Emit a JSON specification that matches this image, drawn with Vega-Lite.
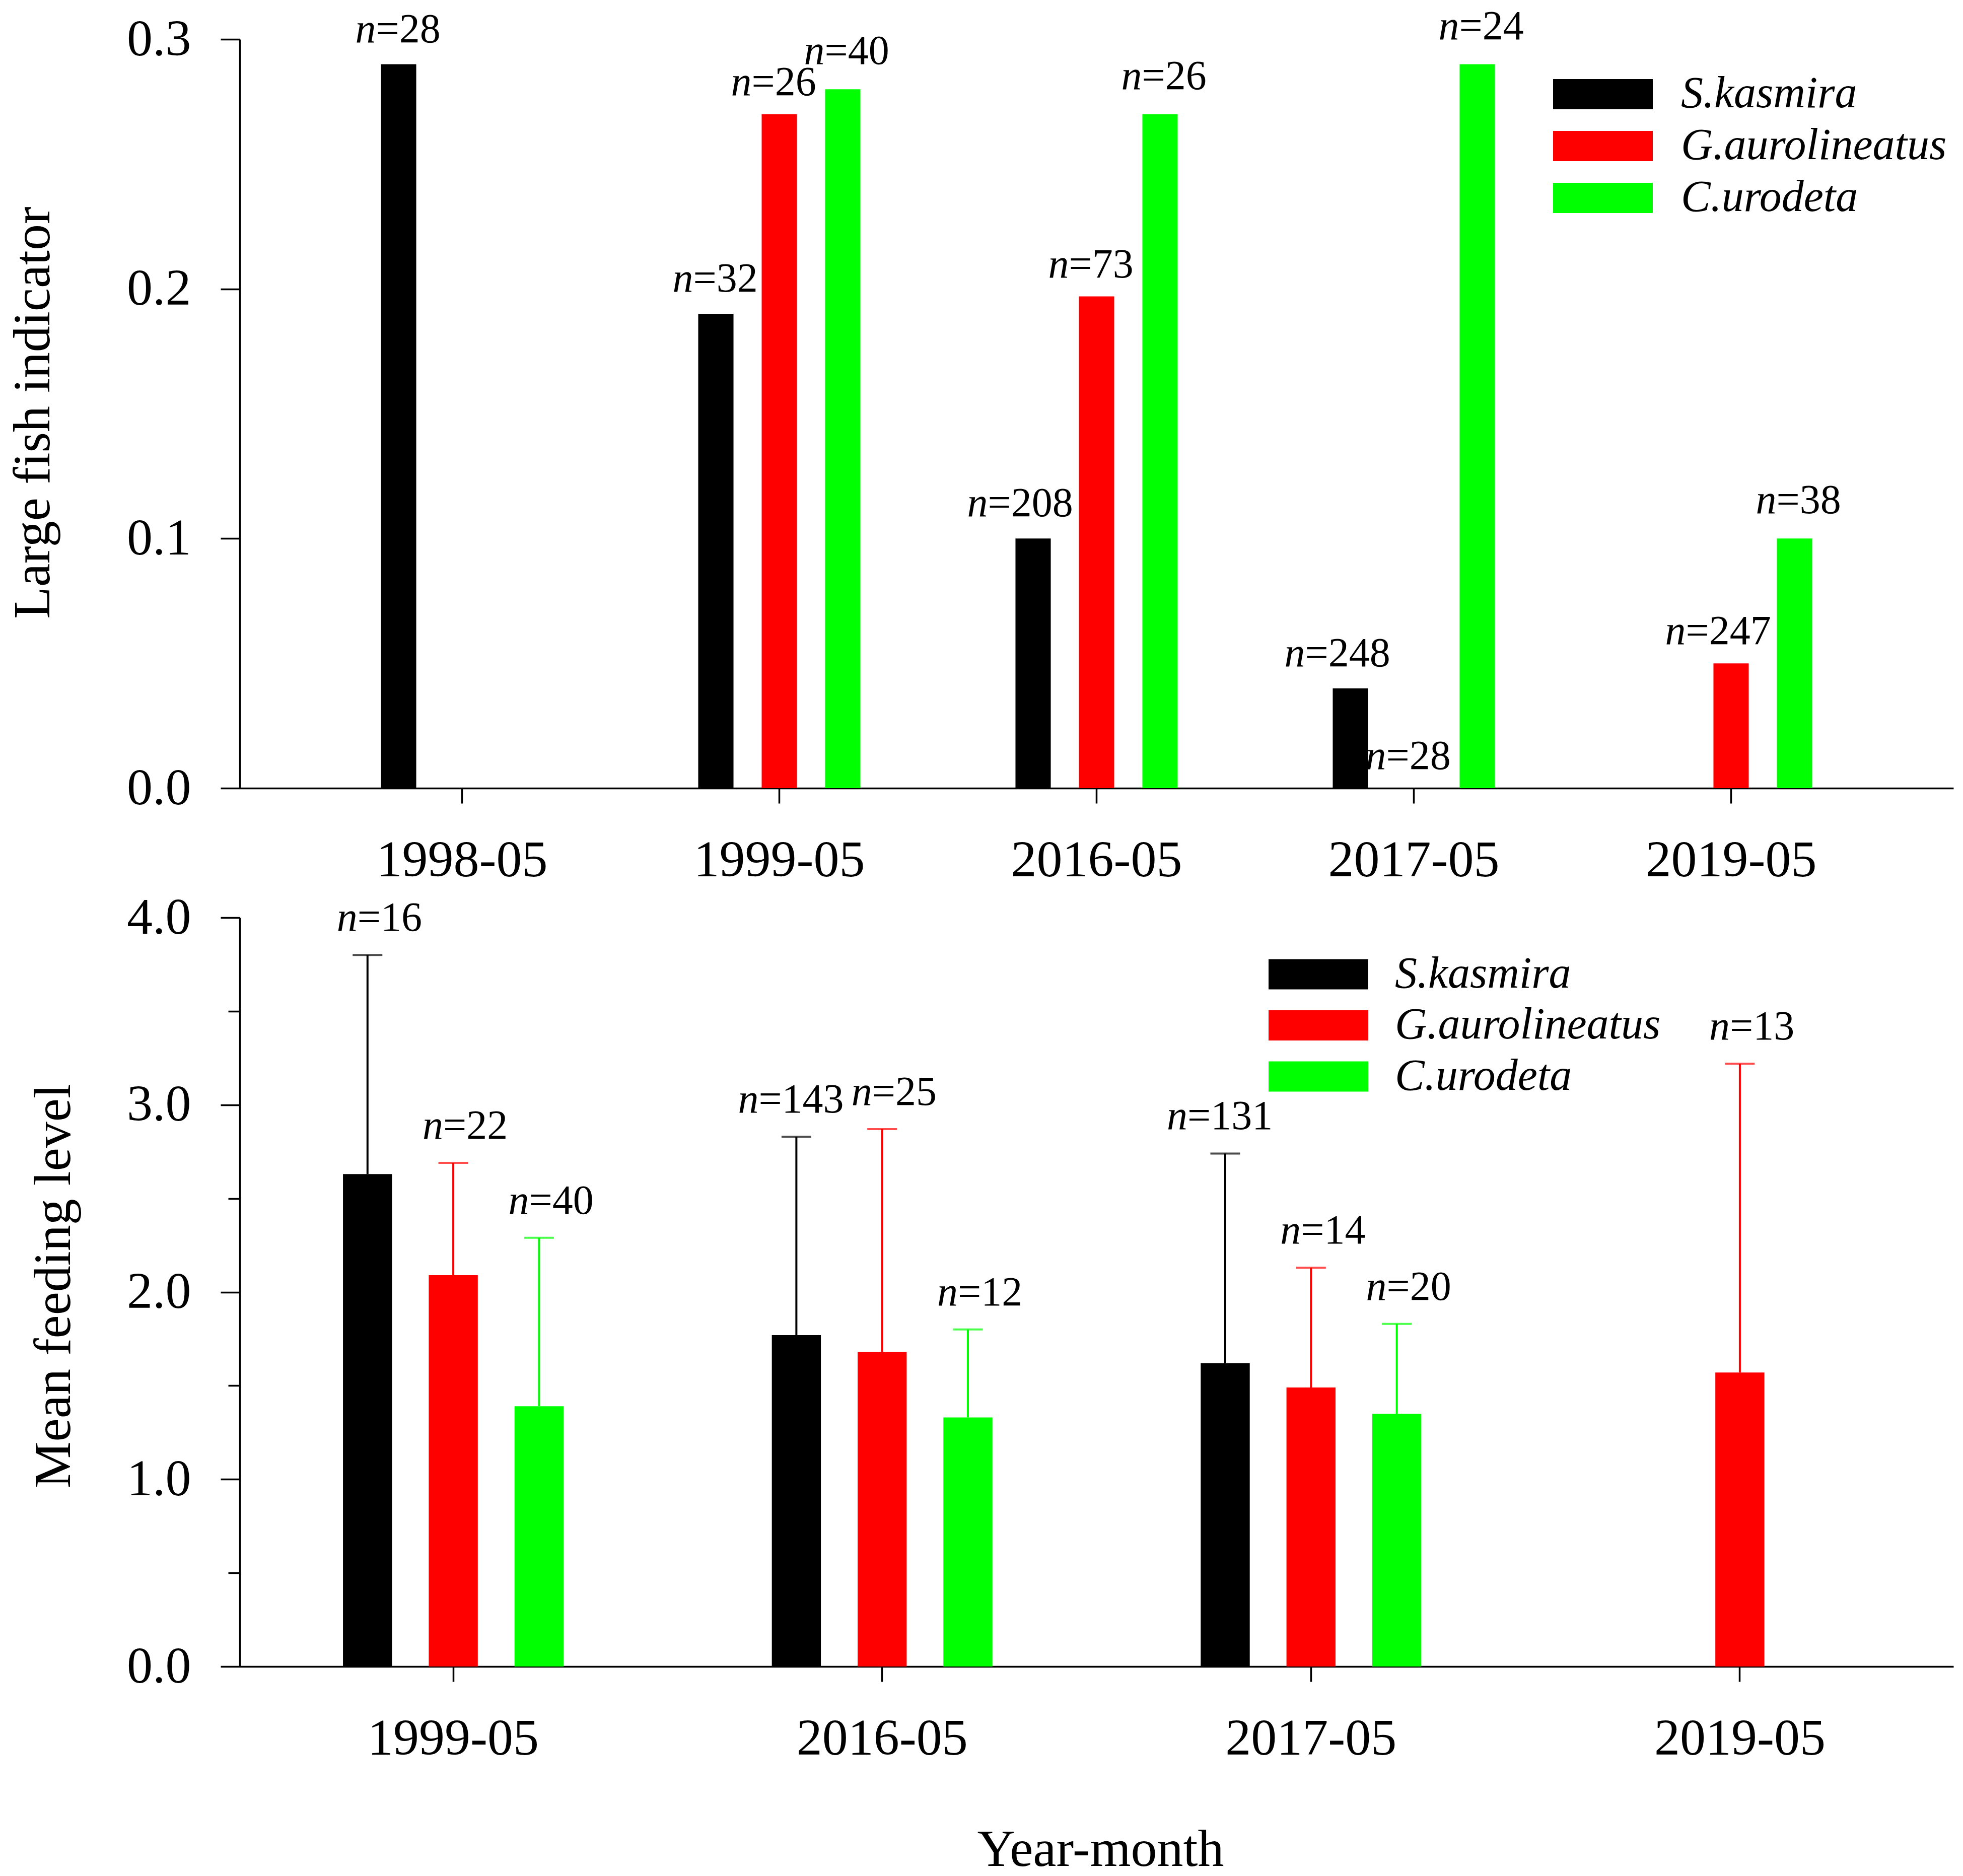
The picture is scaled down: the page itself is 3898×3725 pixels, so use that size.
{
  "$schema": "https://vega.github.io/schema/vega-lite/v6.json",
  "background": "white",
  "autosize": {"type": "pad"},
  "padding": {"left": 14, "top": 11, "right": 10, "bottom": 0},
  "config": {
    "view": {"stroke": null},
    "font": "Liberation Serif",
    "axis": {
      "grid": false,
      "domainColor": "black",
      "domainWidth": 3.5,
      "tickColor": "black",
      "tickWidth": 3.5,
      "labelFont": "Liberation Serif",
      "labelFontSize": 102,
      "labelColor": "black",
      "labelOverlap": false,
      "labelLimit": 0,
      "titleFont": "Liberation Serif",
      "titleFontSize": 104,
      "titleFontWeight": "normal",
      "titleColor": "black"
    }
  },
  "datasets": {
    "fish": [
      {"date": "1998-05", "species": "S.kasmira", "value": 0.29, "n": 28},
      {"date": "1999-05", "species": "S.kasmira", "value": 0.19, "n": 32},
      {"date": "1999-05", "species": "G.aurolineatus", "value": 0.27, "n": 26},
      {"date": "1999-05", "species": "C.urodeta", "value": 0.28, "n": 40},
      {"date": "2016-05", "species": "S.kasmira", "value": 0.10, "n": 208},
      {"date": "2016-05", "species": "G.aurolineatus", "value": 0.197, "n": 73},
      {"date": "2016-05", "species": "C.urodeta", "value": 0.27, "n": 26},
      {"date": "2017-05", "species": "S.kasmira", "value": 0.04, "n": 248},
      {"date": "2017-05", "species": "G.aurolineatus", "value": 0.0, "n": 28},
      {"date": "2017-05", "species": "C.urodeta", "value": 0.29, "n": 24},
      {"date": "2019-05", "species": "G.aurolineatus", "value": 0.05, "n": 247},
      {"date": "2019-05", "species": "C.urodeta", "value": 0.10, "n": 38}
    ],
    "feed": [
      {"date": "1999-05", "species": "S.kasmira", "mean": 2.63, "upper": 3.80, "n": 16},
      {"date": "1999-05", "species": "G.aurolineatus", "mean": 2.09, "upper": 2.69, "n": 22},
      {"date": "1999-05", "species": "C.urodeta", "mean": 1.39, "upper": 2.29, "n": 40},
      {"date": "2016-05", "species": "S.kasmira", "mean": 1.77, "upper": 2.83, "n": 143},
      {"date": "2016-05", "species": "G.aurolineatus", "mean": 1.68, "upper": 2.87, "n": 25},
      {"date": "2016-05", "species": "C.urodeta", "mean": 1.33, "upper": 1.80, "n": 12},
      {"date": "2017-05", "species": "S.kasmira", "mean": 1.62, "upper": 2.74, "n": 131},
      {"date": "2017-05", "species": "G.aurolineatus", "mean": 1.49, "upper": 2.13, "n": 14},
      {"date": "2017-05", "species": "C.urodeta", "mean": 1.35, "upper": 1.83, "n": 20},
      {"date": "2019-05", "species": "G.aurolineatus", "mean": 1.57, "upper": 3.22, "n": 13}
    ]
  },
  "spacing": 257,
  "bounds": "flush",
  "resolve": {
    "scale": {"fill": "independent", "color": "independent", "stroke": "independent", "xOffset": "independent", "x": "independent", "y": "independent"},
    "legend": {"fill": "independent"}
  },
  "vconcat": [
    {
      "width": 3403,
      "height": 1487,
      "data": {"name": "fish"},
      "layer": [
        {
          "mark": {"type": "bar", "stroke": null},
          "encoding": {
            "x": {"field": "date", "type": "nominal",
              "scale": {"domain": ["1998-05", "1999-05", "2016-05", "2017-05", "2019-05"], "paddingInner": 0.4, "paddingOuter": 0.4008},
              "axis": {"title": null, "labelAngle": 0, "tickSize": 30, "labelPadding": 63, "labelLimit": 0}},
            "xOffset": {"field": "species", "type": "nominal",
              "scale": {"domain": ["S.kasmira", "G.aurolineatus", "C.urodeta"], "paddingInner": 0.444, "paddingOuter": 0.222}},
            "y": {"field": "value", "type": "quantitative",
              "scale": {"domain": [0, 0.3], "nice": false},
              "axis": {"values": [0, 0.1, 0.2, 0.3], "format": ".1f", "tickSize": 38, "labelPadding": 59,
                "title": "Large fish indicator", "titleX": -379, "titleY": 741, "titleBaseline": "alphabetic"}},
            "fill": {"field": "species", "type": "nominal",
              "scale": {"domain": ["S.kasmira", "G.aurolineatus", "C.urodeta"], "range": ["#000000", "#ff0000", "#00ff00"]},
              "legend": {"title": null, "orient": "none", "legendX": 2663, "legendY": 65,
                "symbolType": "M-3.3,-1H3.3V1H-3.3Z", "symbolSize": 3600, "symbolStrokeWidth": 0,
                "labelFont": "Liberation Serif", "labelFontStyle": "italic", "labelFontSize": 88, "labelColor": "black",
                "labelOffset": 111, "rowPadding": 15, "padding": 0, "labelLimit": 0}}
          }
        },
        {
          "mark": {"type": "text", "text": "n", "font": "Liberation Serif", "fontStyle": "italic", "fontSize": 82,
            "align": "right", "baseline": "alphabetic", "color": "black",
            "dy": {"expr": "datum.species == 'G.aurolineatus' ? -38 : datum.species == 'C.urodeta' ? -50 : -44"},
            "dx": {"expr": "datum.n >= 100 ? -90 : datum.species == 'G.aurolineatus' ? -55 : datum.species == 'C.urodeta' ? -36 : -45"}},
          "encoding": {
            "x": {"field": "date", "type": "nominal"},
            "xOffset": {"field": "species", "type": "nominal"},
            "y": {"field": "value", "type": "quantitative"}
          }
        },
        {
          "mark": {"type": "text", "text": {"expr": "'=' + datum.n"}, "font": "Liberation Serif", "fontSize": 82,
            "align": "left", "baseline": "alphabetic", "color": "black",
            "dy": {"expr": "datum.species == 'G.aurolineatus' ? -38 : datum.species == 'C.urodeta' ? -50 : -44"},
            "dx": {"expr": "datum.n >= 100 ? -90 : datum.species == 'G.aurolineatus' ? -55 : datum.species == 'C.urodeta' ? -36 : -45"}},
          "encoding": {
            "x": {"field": "date", "type": "nominal"},
            "xOffset": {"field": "species", "type": "nominal"},
            "y": {"field": "value", "type": "quantitative"}
          }
        }
      ]
    },
    {
      "width": 3403,
      "height": 1487,
      "data": {"name": "feed"},
      "resolve": {"axis": {"y": "independent"}},
      "layer": [
        {
          "mark": {"type": "bar", "stroke": null},
          "encoding": {
            "x": {"field": "date", "type": "nominal",
              "scale": {"domain": ["1999-05", "2016-05", "2017-05", "2019-05"], "paddingInner": 0.4, "paddingOuter": 0.198},
              "axis": {"title": "Year-month", "labelAngle": 0, "tickSize": 30, "labelPadding": 63, "labelLimit": 0,
                "titleX": 1709, "titleY": 395, "titleBaseline": "alphabetic"}},
            "xOffset": {"field": "species", "type": "nominal",
              "scale": {"domain": ["S.kasmira", "G.aurolineatus", "C.urodeta"], "paddingInner": 0.428, "paddingOuter": 0.214}},
            "y": {"field": "mean", "type": "quantitative",
              "scale": {"domain": [0, 4], "nice": false},
              "axis": {"orient": "left", "values": [0, 1, 2, 3, 4], "format": ".1f", "tickSize": 38, "labelPadding": 59,
                "title": "Mean feeding level", "titleX": -338, "titleY": 731, "titleBaseline": "alphabetic"}},
            "fill": {"field": "species", "type": "nominal",
              "scale": {"domain": ["S.kasmira", "G.aurolineatus", "C.urodeta"], "range": ["#000000", "#ff0000", "#00ff00"]},
              "legend": {"title": null, "orient": "none", "legendX": 2098, "legendY": 68.5,
                "symbolType": "M-3.3,-1H3.3V1H-3.3Z", "symbolSize": 3600, "symbolStrokeWidth": 0,
                "labelFont": "Liberation Serif", "labelFontStyle": "italic", "labelFontSize": 88, "labelColor": "black",
                "labelOffset": 108, "rowPadding": 13.5, "padding": 0, "labelLimit": 0}}
          }
        },
        {
          "mark": {"type": "rule", "strokeWidth": 4},
          "encoding": {
            "x": {"field": "date", "type": "nominal"},
            "xOffset": {"field": "species", "type": "nominal"},
            "y": {"field": "mean", "type": "quantitative",
              "axis": {"orient": "left", "values": [0.5, 1.5, 2.5, 3.5], "tickSize": 23, "labels": false, "domain": false, "title": null}},
            "y2": {"field": "upper"},
            "stroke": {"field": "species", "type": "nominal",
              "scale": {"domain": ["S.kasmira", "G.aurolineatus", "C.urodeta"], "range": ["#000000", "#ff0000", "#00ff00"]},
              "legend": null}
          }
        },
        {
          "mark": {"type": "tick", "thickness": 4, "size": 59, "orient": "horizontal"},
          "encoding": {
            "x": {"field": "date", "type": "nominal"},
            "xOffset": {"field": "species", "type": "nominal"},
            "y": {"field": "upper", "type": "quantitative", "axis": null},
            "color": {"field": "species", "type": "nominal",
              "scale": {"domain": ["S.kasmira", "G.aurolineatus", "C.urodeta"], "range": ["#000000", "#ff0000", "#00ff00"]},
              "legend": null}
          }
        },
        {
          "mark": {"type": "text", "text": "n", "font": "Liberation Serif", "fontStyle": "italic", "fontSize": 82,
            "align": "right", "baseline": "alphabetic", "dy": -48, "color": "black",
            "dx": {"expr": "datum.n >= 100 ? -75 : -20"}},
          "encoding": {
            "x": {"field": "date", "type": "nominal"},
            "xOffset": {"field": "species", "type": "nominal"},
            "y": {"field": "upper", "type": "quantitative", "axis": null}
          }
        },
        {
          "mark": {"type": "text", "text": {"expr": "'=' + datum.n"}, "font": "Liberation Serif", "fontSize": 82,
            "align": "left", "baseline": "alphabetic", "dy": -48, "color": "black",
            "dx": {"expr": "datum.n >= 100 ? -75 : -20"}},
          "encoding": {
            "x": {"field": "date", "type": "nominal"},
            "xOffset": {"field": "species", "type": "nominal"},
            "y": {"field": "upper", "type": "quantitative", "axis": null}
          }
        }
      ]
    }
  ]
}
